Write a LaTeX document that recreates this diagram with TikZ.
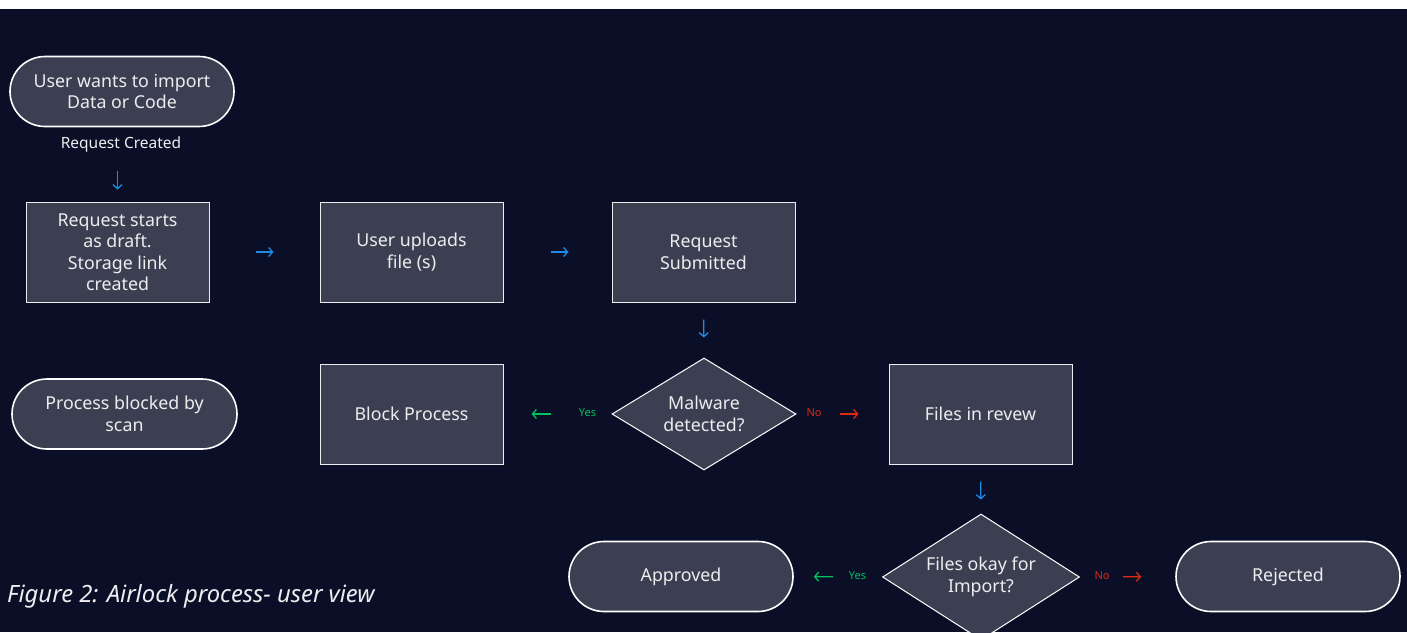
\documentclass[tikz,border=0pt]{standalone}
\usepackage{fontspec}
\setmainfont{Noto Sans}
\usetikzlibrary{shapes.geometric,arrows.meta}
\definecolor{bgnavy}{HTML}{0A0F27}
\definecolor{boxfill}{HTML}{3B3F51}
\definecolor{txtcol}{HTML}{EDEDF0}
\definecolor{arrblue}{HTML}{1E8BE6}
\definecolor{arrgreen}{HTML}{00C060}
\definecolor{arrred}{HTML}{DD2A10}
\tikzset{
  base/.style={fill=boxfill, text=txtcol, align=center, inner sep=0pt,
    font=\fontsize{17.8}{21.5}\selectfont},
  stadium/.style={base, draw=white, line width=1.6pt, rounded corners=35pt,
    minimum width=224pt, minimum height=70pt},
  stepbox/.style={base, draw=white!85!gray, line width=1pt,
    minimum width=183pt, minimum height=100pt},
  decision/.style={base, diamond, draw=white, line width=1pt},
  conn/.style={line width=1.3pt, -{Straight Barb[length=4pt,width=9pt,line width=1.3pt]}},
  blueconn/.style={conn, draw=arrblue},
  greenconn/.style={conn, draw=arrgreen},
  redconn/.style={conn, draw=arrred},
  yeslab/.style={text=arrgreen, font=\fontsize{11}{13}\selectfont, inner sep=0pt},
  nolab/.style={text=arrred, font=\fontsize{11}{13}\selectfont, inner sep=0pt},
}
\begin{document}
\begin{tikzpicture}[x=1pt,y=-1pt]
\useasboundingbox (0,0) rectangle (1407,632);
\fill[white] (0,0) rectangle (1407,9);
\fill[bgnavy] (0,9) rectangle (1407,632);
\begin{scope}
\clip (0,9) rectangle (1407,632);
\node[stadium] (start) at (122,91.5) {User wants to import\\Data or Code};
\node[text=txtcol, font=\fontsize{15.5}{18}\selectfont, inner sep=0pt] (created) at (121,144.5) {Request Created};
\node[stepbox] (draft) at (117.5,252) {Request starts\\as draft.\\Storage link\\created};
\node[stepbox] (upload) at (411.5,252) {User uploads\\file (s)};
\node[stepbox] (submit) at (703.5,252) {Request\\Submitted};
\node[decision, aspect=1.643, minimum width=184pt, minimum height=112pt] (malware) at (704,414) {Malware\\detected?};
\node[stepbox] (block) at (411.5,414) {Block Process};
\node[stadium, minimum width=225pt] (blocked) at (124.5,414) {Process blocked by\\scan};
\node[stepbox] (review) at (980.5,414) {Files in revew};
\node[decision, aspect=1.563, minimum width=197pt, minimum height=126pt] (okay) at (981,577) {Files okay for\\Import?};
\node[stadium] (approved) at (681,576.5) {Approved};
\node[stadium] (rejected) at (1288,576.5) {Rejected};
\node[yeslab] (yes1) at (587.5,413) {Yes};
\node[nolab] (no1) at (814,412.5) {No};
\node[yeslab] (yes2) at (857.5,576) {Yes};
\node[nolab] (no2) at (1102,576) {No};
\draw[blueconn, shorten <=44pt, shorten >=12pt] (draft.north |- start.south) -- (draft.north);
\draw[blueconn, shorten <=46pt, shorten >=46pt] (draft.east) -- (upload.west);
\draw[blueconn, shorten <=47pt, shorten >=43pt] (upload.east) -- (submit.west);
\draw[blueconn, shorten <=17pt, shorten >=20pt] (submit.south) -- (malware.north);
\draw[greenconn, shorten <=61pt, shorten >=28pt] (malware.west) -- (block.east);
\draw[redconn, shorten <=43pt, shorten >=30pt] (malware.east) -- (review.west);
\draw[blueconn, shorten <=17pt, shorten >=14pt] (review.south) -- (okay.north);
\draw[greenconn, shorten <=49pt, shorten >=20pt] (okay.west) -- (approved.east);
\draw[redconn, shorten <=43pt, shorten >=34pt] (okay.east) -- (rejected.west);
\end{scope}
\node[anchor=west, text=txtcol, font=\itshape\fontsize{23.8}{28}\selectfont, inner sep=0pt] (caption) at (7,596.5) {Figure 2: Airlock process- user view};
\end{tikzpicture}
\end{document}
